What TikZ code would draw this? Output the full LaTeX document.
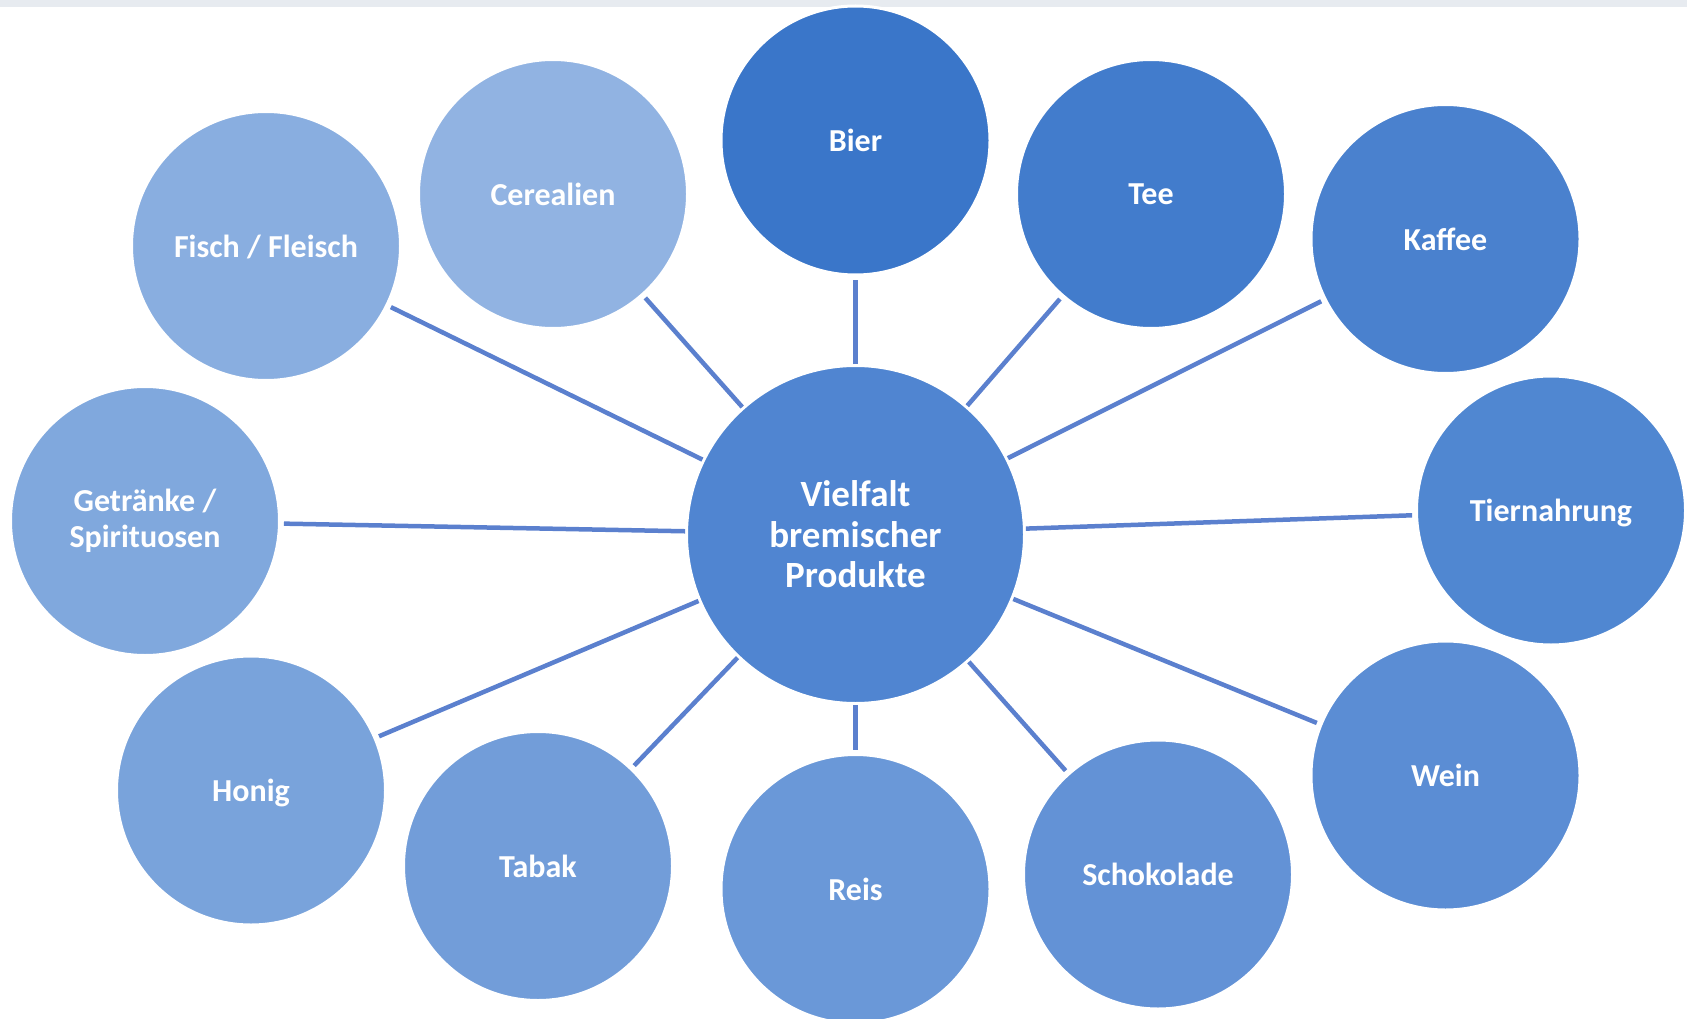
\documentclass[tikz,border=0pt]{standalone}
\usepackage{fontspec}
\setmainfont{Carlito}
\definecolor{bargrey}{HTML}{E7EBF0}
\definecolor{linkblue}{HTML}{5B80CE}
\definecolor{cHub}{HTML}{5085D1}
\definecolor{cBier}{HTML}{3A76C9}
\definecolor{cTee}{HTML}{427CCC}
\definecolor{cKaffee}{HTML}{4A81CE}
\definecolor{cTier}{HTML}{5087D1}
\definecolor{cWein}{HTML}{5B8DD4}
\definecolor{cSchoko}{HTML}{6392D6}
\definecolor{cReis}{HTML}{6A98D8}
\definecolor{cTabak}{HTML}{729DD9}
\definecolor{cHonig}{HTML}{79A3DB}
\definecolor{cGetr}{HTML}{80A8DD}
\definecolor{cFisch}{HTML}{89AEE0}
\definecolor{cCereal}{HTML}{91B3E2}
\begin{document}
\begin{tikzpicture}[x=1pt,y=-1pt,
  bubble/.style={circle, draw=white, line width=3pt, outer sep=1.5pt,
    minimum size=269pt, inner sep=0pt, text=white, align=center,
    font=\bfseries\fontsize{32}{35.5}\selectfont},
  oneline/.style={text depth=0pt},
  hub/.style={bubble, minimum size=338pt,
    font=\bfseries\fontsize{37}{40.5}\selectfont},
  link/.style={draw=linkblue, line width=4.5pt, shorten >=3pt}]
\useasboundingbox (0,0) rectangle (1687,1019);
\fill[bargrey] (0,0) rectangle (1687,7);

\node[hub, fill=cHub] (hub) at (855.5,534.5) {Vielfalt\\bremischer\\Produkte};

\node[bubble, oneline, fill=cBier]   (bier)   at (855.5,140.5) {Bier};
\node[bubble, oneline, fill=cTee]    (tee)    at (1151,194)    {Tee};
\node[bubble, oneline, fill=cKaffee] (kaffee) at (1445.5,239)  {Kaffee};
\node[bubble, oneline, fill=cTier]   (tier)   at (1551,510.5)  {Tiernahrung};
\node[bubble, oneline, fill=cWein]   (wein)   at (1445.5,775.5) {Wein};
\node[bubble, oneline, fill=cSchoko] (schoko) at (1158,874.5)  {Schokolade};
\node[bubble, oneline, fill=cReis]   (reis)   at (855.5,889)   {Reis};
\node[bubble, oneline, fill=cTabak]  (tabak)  at (538,866)     {Tabak};
\node[bubble, oneline, fill=cHonig]  (honig)  at (251,790.5)   {Honig};
\node[bubble, fill=cGetr]            (getr)   at (145,521)     {Getränke /\\Spirituosen};
\node[bubble, oneline, fill=cFisch]  (fisch)  at (266,246)     {Fisch / Fleisch};
\node[bubble, oneline, fill=cCereal] (cereal) at (553,194)     {Cerealien};

\foreach \n in {bier,tee,kaffee,tier,wein,schoko,reis,tabak,honig,getr,fisch,cereal}
  \draw[link] (hub) -- (\n);
\end{tikzpicture}
\end{document}
